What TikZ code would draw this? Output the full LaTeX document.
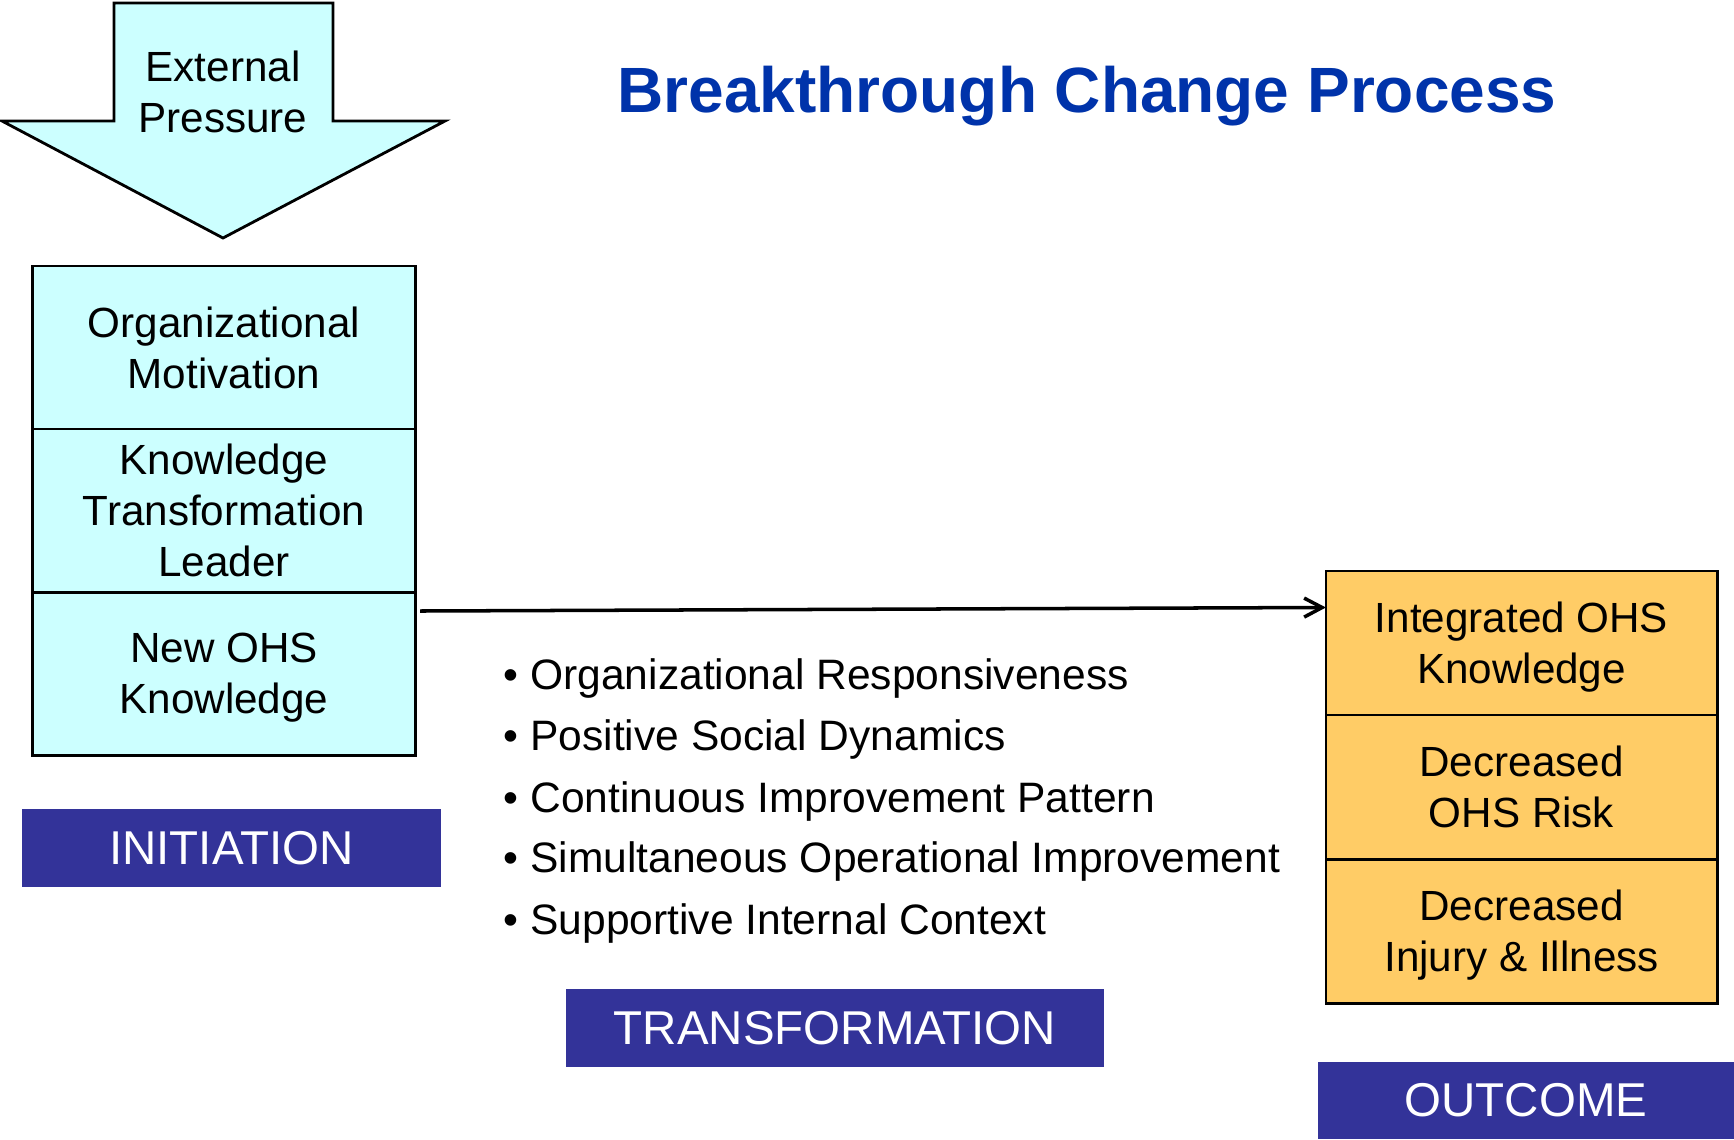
\documentclass[tikz,border=0pt]{standalone}
\usepackage{fontspec}
\setmainfont{Liberation Sans}
\usetikzlibrary{arrows.meta,positioning}
\definecolor{stagecyan}{HTML}{CCFFFF}
\definecolor{stageorange}{HTML}{FFCC66}
\definecolor{labelblue}{HTML}{333399}
\definecolor{titleblue}{HTML}{0033AA}
\newcommand{\boxfont}{\fontsize{12}{14.5}\selectfont}
\newcommand{\labelfont}{\fontsize{13.5}{16}\selectfont}
\tikzset{
  inbox/.style={rectangle,draw=black,line width=0.8pt,fill=stagecyan,inner sep=0pt,outer sep=0pt,
    minimum width=3.82cm,minimum height=1.63cm,align=center,font=\boxfont,text depth=0pt},
  outbox/.style={rectangle,draw=black,line width=0.8pt,fill=stageorange,inner sep=0pt,outer sep=0pt,
    minimum width=3.91cm,minimum height=1.44cm,align=center,font=\boxfont,text depth=0pt},
  stagelabel/.style={rectangle,fill=labelblue,text=white,inner sep=0pt,
    minimum height=0.78cm,font=\labelfont},
  bullet/.style={anchor=base west,inner sep=0pt,font=\fontsize{12.1}{14.5}\selectfont}
}

\begin{document}
\begin{tikzpicture}[x=0.01cm,y=-0.01cm]
\useasboundingbox (0,0) rectangle (1734,1139);
% title
\node (title) [anchor=base,inner sep=0pt,text=titleblue,font=\fontsize{18.2}{22}\selectfont\bfseries] at (1087,112) {Breakthrough Change Process};
% external pressure arrow
\draw[fill=stagecyan,line width=0.8pt] (114,3) -- (333,3) -- (333,121) -- (445,121)
  -- (223,238) -- (2,121) -- (114,121) -- cycle;
\node (press) [align=center,font=\boxfont] at (223,92) {External\\Pressure};
% initiation
\node (motiv) [inbox] at (224,347.5) {Organizational\\Motivation};
\node (leader) [inbox,below=0pt of motiv] {Knowledge\\Transformation\\Leader};
\node (newohs) [inbox,below=0pt of leader] {New OHS\\Knowledge};
\node (init) [stagelabel,minimum width=4.19cm] at (231.5,848) {INITIATION};
% outcome
\node (integ) [outbox] at (1521.5,643) {Integrated OHS\\Knowledge};
\node (risk) [outbox,below=0pt of integ] {Decreased\\OHS Risk};
\node (injury) [outbox,below=0pt of risk] {Decreased\\Injury \& Illness};
\node (outc) [stagelabel,minimum width=4.16cm,minimum height=0.77cm] at (1526,1100.5) {OUTCOME};
% transformation
\coordinate (tail) at (420,611);
\draw[line width=1pt,-{Straight Barb[length=1.8mm,width=1.9mm]}] (tail) -- ([yshift=0.355cm]integ.west);
\node (b1) [bullet] at (503,689) {\textbullet\ Organizational Responsiveness};
\node (b2) [bullet] at (503,750) {\textbullet\ Positive Social Dynamics};
\node (b3) [bullet] at (503,812) {\textbullet\ Continuous Improvement Pattern};
\node (b4) [bullet] at (503,872) {\textbullet\ Simultaneous Operational Improvement};
\node (b5) [bullet] at (503,934) {\textbullet\ Supportive Internal Context};
\node (trans) [stagelabel,minimum width=5.38cm] at (835,1028) {TRANSFORMATION};
\end{tikzpicture}
\end{document}
